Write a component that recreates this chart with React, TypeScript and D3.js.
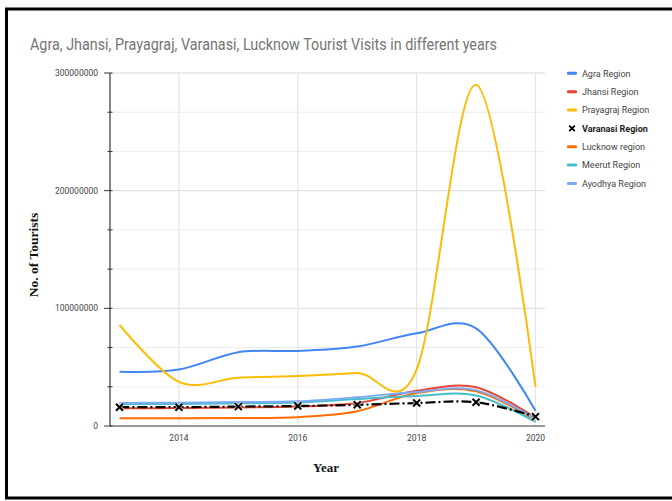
import React from "react";
import * as d3 from "d3";

const years = [2013, 2014, 2015, 2016, 2017, 2018, 2019, 2020];
const seriesNames = ["Agra Region", "Jhansi Region", "Prayagraj Region", "Varanasi Region", "Lucknow region", "Meerut Region", "Ayodhya Region"];
const seriesColors = ["#4285F4", "#EA4335", "#FBBC04", "#000000", "#FF6D01", "#46BDC6", "#7BAAF7"];
const agra = [46.2e6, 48e6, 62.7e6, 63.8e6, 67.5e6, 78.8e6, 83e6, 13e6];
const jhansi = [15e6, 15.2e6, 15.8e6, 16.5e6, 19.5e6, 30e6, 33e6, 7e6];
const prayagraj = [86e6, 37.5e6, 41e6, 42.5e6, 45e6, 48e6, 290e6, 33.5e6];
const varanasi = [16e6, 16e6, 16.5e6, 17e6, 18e6, 19.5e6, 20.2e6, 8e6];
const lucknow = [6.5e6, 6.6e6, 6.8e6, 7.5e6, 12.5e6, 28e6, 29.5e6, 5e6];
const meerut = [18.5e6, 18.8e6, 19.3e6, 20e6, 23e6, 25.5e6, 26e6, 3.5e6];
const ayodhya = [19.5e6, 19.8e6, 20.3e6, 21e6, 24.5e6, 29e6, 30.5e6, 6e6];
const seriesValues = [agra, jhansi, prayagraj, varanasi, lucknow, meerut, ayodhya];
const yMajorTicks = [0, 100000000, 200000000, 300000000];
const yTickLabels = ["0", "100000000", "200000000", "300000000"];
const xTicks = [2014, 2016, 2018, 2020];
const title = "Agra, Jhansi, Prayagraj, Varanasi, Lucknow Tourist Visits in different years";

const W = 672, H = 501;
const plotL = 110, plotR = 545, plotT = 73, plotB = 426;

export default function App() {
  const x = d3.scaleLinear().domain([2013, 2020]).range([119.5, 535.5]);
  const y = d3.scaleLinear().domain([0, 300000000]).range([plotB, plotT]);
  const minorTicks = d3.range(0, 300000001, 100000000 / 3);
  const line = d3
    .line<number>()
    .x((_, i) => x(years[i]))
    .y((v) => y(v))
    .curve(d3.curveCardinal.tension(0));
  const font = "Roboto, Arial, sans-serif";
  const drawOrder = [0, 1, 2, 4, 5, 6, 3];
  const xMark = "M-3.5,-3.5L3.5,3.5M-3.5,3.5L3.5,-3.5";

  return (
    <svg width={W} height={H} style={{ position: "absolute", left: 0, top: 0, background: "#fff" }}>
      <rect x={0} y={0} width={W} height={H} fill="#fff" />
      {minorTicks.map((t, i) => (
        <line key={"hg" + i} x1={plotL} x2={plotR} y1={y(t)} y2={y(t)}
          stroke={i % 3 === 0 ? "#dadada" : "#ededed"} strokeWidth={1} />
      ))}
      {xTicks.map((t) => (
        <line key={"vg" + t} x1={x(t)} x2={x(t)} y1={plotT} y2={plotB} stroke="#e6e6e6" strokeWidth={1.3} />
      ))}
      <line x1={plotL} x2={plotR} y1={plotB} y2={plotB} stroke="#444" strokeWidth={1.2} />
      <line x1={plotL} x2={plotL} y1={plotT} y2={plotB} stroke="#333" strokeWidth={1.2} />
      {minorTicks.map((t, i) => (
        <line key={"tk" + i} x1={i % 3 === 0 ? plotL - 6 : plotL - 2.5} x2={plotL + 2.5} y1={y(t)} y2={y(t)}
          stroke="#333" strokeWidth={1} />
      ))}
      {yMajorTicks.map((t, i) => (
        <text key={"yl" + t} x={98} y={y(t) + 3} textAnchor="end" fontSize={8.5} fill="#444" fontFamily={font}>
          {yTickLabels[i]}
        </text>
      ))}
      {xTicks.map((t) => (
        <text key={"xl" + t} x={x(t)} y={441} textAnchor="middle" fontSize={8.5} fill="#444" fontFamily={font}>
          {t}
        </text>
      ))}
      {drawOrder.map((si) => {
        const vals = seriesValues[si];
        const d = line(vals) || "";
        if (si === 3) {
          return (
            <g key={"s" + si}>
              <path d={d} fill="none" stroke="#000" strokeWidth={2.2} strokeDasharray="10,3,2,3" />
              {vals.map((v, i) => (
                <g key={i} transform={`translate(${x(years[i])},${y(v)})`}>
                  <path d={xMark} stroke="#fff" strokeWidth={4} opacity={0.6} />
                  <path d={xMark} stroke="#000" strokeWidth={2} />
                </g>
              ))}
            </g>
          );
        }
        return <path key={"s" + si} d={d} fill="none" stroke={seriesColors[si]} strokeWidth={2} />;
      })}
      <text x={30} y={50} fontSize={16} fill="#757575" fontFamily={font} textLength={467} lengthAdjust="spacingAndGlyphs">
        {title}
      </text>
      {seriesNames.map((n, i) => {
        const ly = 73.3 + i * 18.35;
        return (
          <g key={"lg" + i}>
            {i === 3 ? (
              <g transform={`translate(572,${ly})`}>
                <path d="M-2.8,-2.8L2.8,2.8M-2.8,2.8L2.8,-2.8" stroke="#000" strokeWidth={1.8} />
              </g>
            ) : (
              <rect x={567} y={ly - 1.5} width={10} height={3} rx={1} fill={seriesColors[i]} />
            )}
            <text x={582} y={ly + 3.3} fontSize={9} fill={i === 3 ? "#222" : "#444"} fontWeight={i === 3 ? "bold" : "normal"} fontFamily={font}>
              {n}
            </text>
          </g>
        );
      })}
      <text transform="translate(38,255) rotate(-90)" textAnchor="middle" fontSize={13.5} fontWeight="bold"
        fontFamily="'Liberation Serif', 'Times New Roman', serif" fill="#111">
        No. of Tourists
      </text>
      <text x={326} y={472} textAnchor="middle" fontSize={13} fontWeight="bold"
        fontFamily="'Liberation Serif', 'Times New Roman', serif" fill="#111">
        Year
      </text>
      <rect x={6.5} y={9} width={720} height={489} fill="none" stroke="#000" strokeWidth={3} />
    </svg>
  );
}
